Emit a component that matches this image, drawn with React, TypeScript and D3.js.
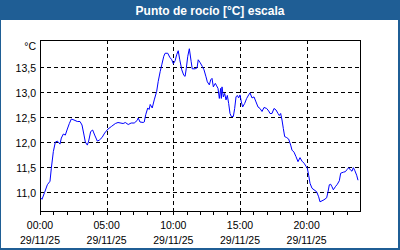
import React from "react";
import * as d3 from "d3";

const TITLE = "Punto de rocío [°C] escala";
const UNIT = "°C";
const DATE_LABEL = "29/11/25";
const X_TICK_MINUTES = [0, 300, 600, 900, 1200];
const X_TICK_LABELS = ["00:00", "05:00", "10:00", "15:00", "20:00"];
const Y_TICKS = [11.0, 11.5, 12.0, 12.5, 13.0, 13.5];

// minutes after midnight
const TIMES = [
  3, 9, 21, 33, 45, 51, 60, 69, 78, 90, 96, 105, 114, 123, 132, 141, 153, 168, 180, 189,
  198, 204, 213, 219, 228, 237, 246, 258, 267, 279, 291, 306, 321, 339, 351, 374, 384, 397, 410, 424,
  437, 442, 450, 465, 469, 476, 485, 491, 496, 505, 514, 525, 532, 541, 548, 557, 563, 575, 584, 593,
  600, 608, 615, 622, 629, 638, 647, 653, 658, 665, 672, 680, 685, 698, 707, 712, 721, 730, 738, 747,
  753, 762, 768, 774, 780, 789, 795, 801, 807, 813, 816, 819, 825, 831, 837, 843, 849, 855, 861, 870,
  876, 882, 888, 894, 900, 906, 912, 921, 930, 939, 945, 954, 963, 972, 981, 990, 999, 1008, 1020, 1029,
  1035, 1044, 1053, 1062, 1071, 1077, 1083, 1089, 1095, 1101, 1110, 1119, 1128, 1134, 1143, 1152, 1161, 1170, 1179, 1188,
  1197, 1203, 1209, 1215, 1224, 1233, 1245, 1254, 1260, 1269, 1278, 1290, 1296, 1302, 1308, 1314, 1320, 1329, 1338, 1347,
  1353, 1365, 1374, 1383, 1389, 1398, 1404, 1410, 1416, 1425, 1431,
];

const VALUES = [
  10.89, 10.86, 11.0, 11.15, 11.22, 11.48, 11.81, 12.0, 12.02, 11.96, 12.08, 12.16, 12.14, 12.26, 12.37, 12.46, 12.44, 12.41, 12.41, 12.34,
  12.14, 12.0, 11.94, 12.02, 12.21, 12.24, 12.14, 12.02, 12.04, 12.09, 12.18, 12.26, 12.31, 12.37, 12.39, 12.37, 12.39, 12.35, 12.38, 12.38,
  12.43, 12.48, 12.4, 12.39, 12.4, 12.55, 12.68, 12.65, 12.75, 12.68, 12.84, 13.01, 13.21, 13.41, 13.54, 13.71, 13.77, 13.77, 13.69, 13.64,
  13.56, 13.62, 13.74, 13.82, 13.64, 13.44, 13.33, 13.31, 13.46, 13.71, 13.86, 13.61, 13.46, 13.46, 13.48, 13.64, 13.58, 13.51, 13.44, 13.3,
  13.2, 13.14, 13.24, 13.27, 13.1, 13.17, 13.12, 13.07, 12.87, 13.07, 12.87, 13.1, 12.9, 12.97, 12.84, 12.93, 12.77, 12.57, 12.51, 12.51,
  12.67, 12.9, 12.93, 12.88, 12.94, 12.8, 12.7, 12.77, 12.87, 12.94, 12.98, 12.88, 12.9, 12.8, 12.7, 12.67, 12.61, 12.69, 12.67, 12.62,
  12.57, 12.57, 12.67, 12.64, 12.57, 12.53, 12.57, 12.44, 12.27, 12.11, 12.09, 12.06, 11.94, 11.84, 11.8, 11.71, 11.61, 11.69, 11.62, 11.58,
  11.52, 11.48, 11.34, 11.18, 11.08, 11.05, 11.01, 10.91, 10.81, 10.83, 10.85, 10.89, 11.01, 11.15, 11.16, 11.11, 11.05, 11.11, 11.16, 11.23,
  11.38, 11.4, 11.41, 11.46, 11.49, 11.44, 11.42, 11.49, 11.44, 11.34, 11.24,
];

const W = 400;
const H = 250;
const FRAME = "#1f5e95";
const FONT = "'Liberation Sans', Arial, sans-serif";

export default function App() {
  const left = 40, right = 360, top = 40, bottom = 211;
  const x = d3.scaleLinear().domain([0, 1440]).range([left, right]);
  const y = d3.scaleLinear().domain([10.627, 14.034]).range([bottom, top]);
  const data = TIMES.map((t, i) => [t, VALUES[i]] as [number, number]);
  const line = d3
    .line<[number, number]>()
    .x((d) => x(d[0]))
    .y((d) => y(d[1]));
  const fmt = (v: number) => d3.format(".1f")(v).replace(".", ",");
  const hours = d3.range(0, 24);
  const px = (v: number) => Math.round(v) + 0.5;

  return (
    <svg
      width={W}
      height={H}
      style={{ position: "absolute", left: 0, top: 0, display: "block" }}
    >
      <rect x={0} y={0} width={W} height={H} fill={FRAME} />
      <rect x={1} y={20} width={W - 3} height={H - 22} fill="#ffffff" />
      <text
        x={210}
        y={14.5}
        fill="#ffffff"
        fontFamily={FONT}
        fontWeight="bold"
        fontSize={12}
        textAnchor="middle"
      >
        {TITLE}
      </text>

      {/* grid */}
      <g stroke="#000" strokeDasharray="4,3" shapeRendering="crispEdges">
        {Y_TICKS.map((t) => (
          <line key={"gy" + t} x1={left} x2={right} y1={px(y(t))} y2={px(y(t))} />
        ))}
        {X_TICK_MINUTES.slice(1).map((t) => (
          <line key={"gx" + t} x1={px(x(t))} x2={px(x(t))} y1={top} y2={bottom} />
        ))}
      </g>

      {/* frame */}
      <rect
        x={left + 0.5}
        y={top + 0.5}
        width={right - left}
        height={bottom - top}
        fill="none"
        stroke="#000"
        shapeRendering="crispEdges"
      />

      {/* hour ticks */}
      <g stroke="#000" shapeRendering="crispEdges">
        {hours.map((h) => (
          <line key={"t" + h} x1={px(x(h * 60))} x2={px(x(h * 60))} y1={bottom} y2={bottom + 4} />
        ))}
      </g>

      <path d={line(data) || ""} fill="none" stroke="#0000ff" strokeWidth={1} />

      <g fontFamily={FONT} fontSize={10.5} fill="#000">
        <text x={36} y={49.5} textAnchor="end">
          {UNIT}
        </text>
        {Y_TICKS.map((t) => (
          <text key={"ly" + t} x={36} y={y(t) + 5} textAnchor="end">
            {fmt(t)}
          </text>
        ))}
        {X_TICK_MINUTES.map((t, i) => (
          <g key={"lx" + t}>
            <text x={x(t)} y={228.5} textAnchor="middle">
              {X_TICK_LABELS[i]}
            </text>
            <text x={x(t)} y={244} textAnchor="middle">
              {DATE_LABEL}
            </text>
          </g>
        ))}
      </g>
    </svg>
  );
}
